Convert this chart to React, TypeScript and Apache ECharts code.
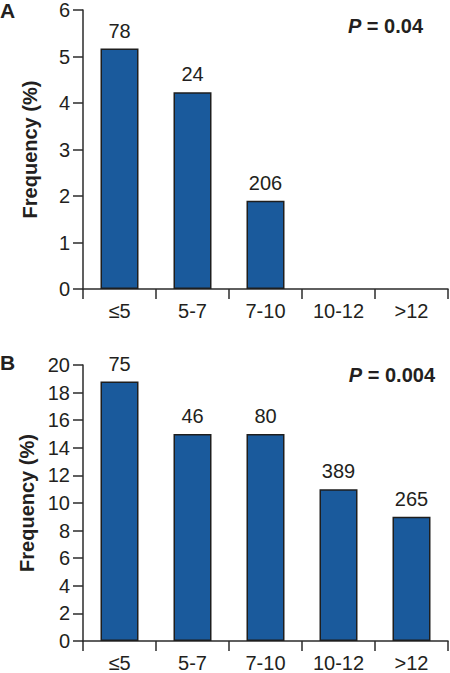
import React, { useEffect, useRef } from "react";
import * as echarts from "echarts";

const categories = ["≤5", "5-7", "7-10", "10-12", ">12"];
const freqA = [5.17, 4.23, 1.9, 0, 0];
const countsA: (number | null)[] = [78, 24, 206, null, null];
const freqB = [18.8, 15, 15, 11, 9];
const countsB: (number | null)[] = [75, 46, 80, 389, 265];
const yTicksA = { min: 0, max: 6, interval: 1 };
const yTicksB = { min: 0, max: 20, interval: 2 };
const pA = "0.04";
const pB = "0.004";

const FONT = "Liberation Sans, Arial, Helvetica, sans-serif";
const TXT = "#231f20";
const AX = "#2b2b2b";
const FILL = "#1a5a9c";

function makeData(vals: number[], counts: (number | null)[]) {
  return vals.map((v, i) => ({
    value: v,
    itemStyle: v === 0 ? { borderWidth: 0 } : undefined,
    label: {
      show: counts[i] != null,
      formatter: counts[i] != null ? String(counts[i]) : "",
    },
  }));
}

export default function App() {
  const ref = useRef<HTMLDivElement>(null);
  useEffect(() => {
    if (!ref.current) return;
    const chart = echarts.init(ref.current, null, { renderer: "svg" });
    const xAxisBase = (gridIndex: number) => ({
      type: "category" as const,
      gridIndex,
      data: categories,
      axisLine: { lineStyle: { color: AX, width: 1.5 } },
      axisTick: { show: true, length: 10, lineStyle: { color: AX, width: 1.5 } },
      axisLabel: { color: TXT, fontSize: 20, fontFamily: FONT, margin: 12, interval: 0 },
    });
    const yAxisBase = (gridIndex: number, t: { min: number; max: number; interval: number }) => ({
      type: "value" as const,
      gridIndex,
      min: t.min,
      max: t.max,
      interval: t.interval,
      name: "Frequency (%)",
      nameLocation: "middle" as const,
      nameRotate: 90,
      nameGap: 43,
      nameTextStyle: { color: TXT, fontSize: 20, fontWeight: "bold" as const, fontFamily: FONT },
      axisLine: { show: true, lineStyle: { color: AX, width: 1.5 } },
      axisTick: { show: true, length: 10, lineStyle: { color: AX, width: 1.5 } },
      axisLabel: { color: TXT, fontSize: 20, fontFamily: FONT, margin: 13 },
      splitLine: { show: false },
    });
    const seriesBase = {
      type: "bar" as const,
      barWidth: 38,
      itemStyle: { color: FILL, borderColor: "#1e1e1e", borderWidth: 1.5 },
      label: {
        position: "top" as const,
        distance: 8,
        color: TXT,
        fontSize: 20,
        fontFamily: FONT,
      },
    };
    const pText = (val: string, x: number, y: number) => ({
      type: "text",
      x,
      y,
      style: {
        text: "{i|P} = " + val,
        align: "right",
        verticalAlign: "middle",
        fill: TXT,
        font: `bold 20px ${FONT}`,
        rich: {
          i: { fontStyle: "italic", fontWeight: "bold", fontSize: 20, fontFamily: FONT, fill: TXT },
        },
      },
    });
    const panel = (t: string, x: number, y: number) => ({
      type: "text",
      x,
      y,
      style: {
        text: t,
        align: "left",
        verticalAlign: "middle",
        fill: TXT,
        font: `bold 21px ${FONT}`,
      },
    });
    chart.setOption({
      animation: false,
      backgroundColor: "#ffffff",
      grid: [
        { left: 83, top: 10, width: 365, height: 279 },
        { left: 83, top: 365, width: 365, height: 279 },
      ],
      xAxis: [xAxisBase(0), xAxisBase(1)],
      yAxis: [yAxisBase(0, yTicksA), yAxisBase(1, yTicksB)],
      series: [
        { ...seriesBase, xAxisIndex: 0, yAxisIndex: 0, data: makeData(freqA, countsA) },
        { ...seriesBase, xAxisIndex: 1, yAxisIndex: 1, data: makeData(freqB, countsB) },
      ],
      graphic: [
        panel("A", 0, 10),
        panel("B", 0, 362),
        pText(pA, 423, 26),
        pText(pB, 435, 375),
      ],
    });
    return () => chart.dispose();
  }, []);
  return (
    <div
      ref={ref}
      style={{ position: "absolute", left: 0, top: 0, width: 450, height: 673, background: "#fff" }}
    />
  );
}
